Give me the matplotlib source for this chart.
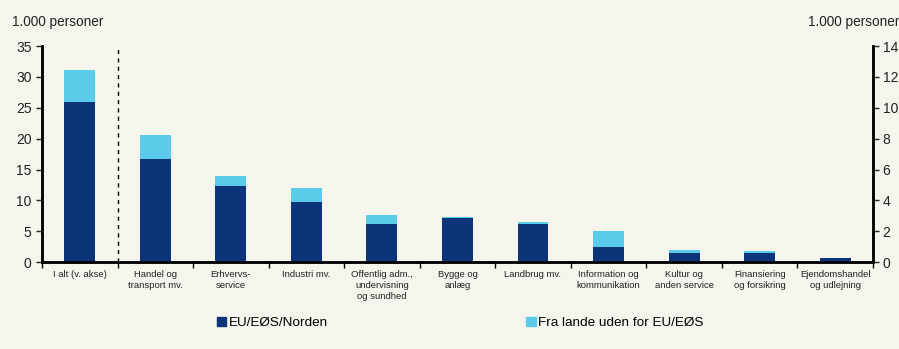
import numpy as np
import matplotlib
matplotlib.use("Agg")
from matplotlib import pyplot as plt
from matplotlib.patches import Patch

plt.rcParams['font.family'] = ['Liberation Sans', 'DejaVu Sans']

categories = ["I alt (v. akse)", "Handel og\ntransport mv.", "Erhvervs-\nservice", "Industri mv.",
              "Offentlig adm.,\nundervisning\nog sundhed", "Bygge og\nanlæg", "Landbrug mv.",
              "Information og\nkommunikation", "Kultur og\nanden service", "Finansiering\nog forsikring",
              "Ejendomshandel\nog udlejning"]
# first value on left axis, rest on right axis (1.000 personer)
eu_norden = [25.9, 6.67, 4.96, 3.9, 2.5, 2.83, 2.48, 1.0, 0.62, 0.56, 0.24]
uden_eu = [5.2, 1.55, 0.64, 0.9, 0.53, 0.1, 0.1, 1.03, 0.15, 0.18, 0.04]

dark = '#0b3479'
light = '#5bcbea'
bg = '#f5f5ee'

fig = plt.figure(figsize=(8.99, 3.49), dpi=100, facecolor=bg)
ax = fig.add_axes([0.0467, 0.249, 0.9243, 0.619])
ax.set_facecolor(bg)
ax2 = ax.twinx()

x = np.arange(len(categories))
w = 0.41
ax.bar(x[0], eu_norden[0], w, color=dark)
ax.bar(x[0], uden_eu[0], w, bottom=eu_norden[0], color=light)
ax2.bar(x[1:], eu_norden[1:], w, color=dark)
ax2.bar(x[1:], uden_eu[1:], w, bottom=eu_norden[1:], color=light)

ax.set_xlim(-0.5, len(categories) - 0.5)
ax.set_ylim(0, 35)
ax2.set_ylim(0, 14)
ax.set_yticks(np.arange(0, 36, 5))
ax2.set_yticks(np.arange(0, 15, 2))

# separator between total and sectors
ax.axvline(0.5, color='black', linestyle=(0, (3, 3)), linewidth=1)

ax.set_xticks(x)
ax.set_xticklabels(categories, fontsize=6.8, color='#222222', linespacing=1.25)
ax.set_xticks(np.arange(-0.5, len(categories), 1), minor=True)
ax.tick_params(axis='x', which='major', length=0, pad=6)
ax.tick_params(axis='x', which='minor', length=4, width=1, direction='out')

for a in (ax, ax2):
    a.spines['top'].set_visible(False)
    for s in ('left', 'right', 'bottom'):
        a.spines[s].set_linewidth(1.8)
    a.tick_params(axis='y', labelsize=10, length=4, width=1, direction='out', colors='#222222')
ax2.tick_params(axis='y', pad=3)

fig.text(0.013, 0.937, "1.000 personer", fontsize=9.8, color='#222222', va='center')
fig.text(0.899, 0.937, "1.000 personer", fontsize=9.8, color='#222222', va='center')

handles = [Patch(color=dark, label='EU/EØS/Norden'), Patch(color=light, label='Fra lande uden for EU/EØS')]
fig.legend(handles=handles, loc='center', bbox_to_anchor=(0.512, 0.074), ncol=2, frameon=False,
           fontsize=9.7, handlelength=0.7, handleheight=0.7, handletextpad=0.2, columnspacing=14.7)

fig.savefig("out.png", dpi=100, facecolor=bg)
